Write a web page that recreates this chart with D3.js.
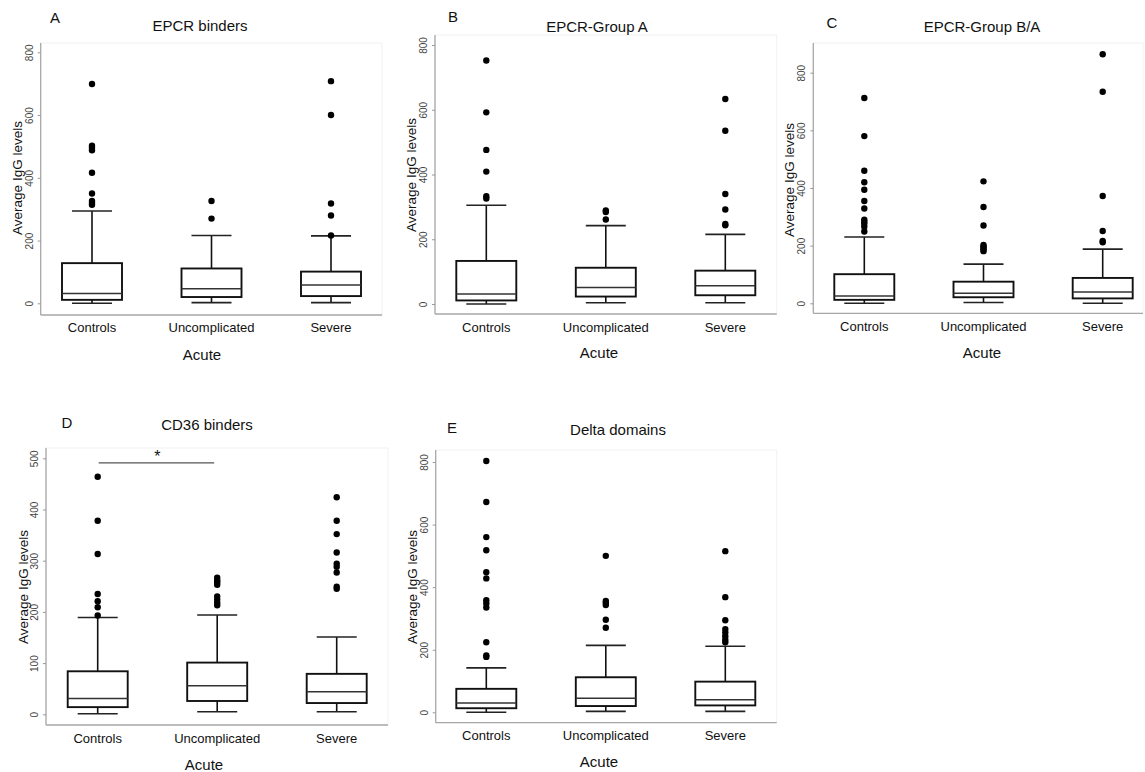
<!DOCTYPE html>
<html>
<head>
<meta charset="utf-8">
<script src="https://cdn.jsdelivr.net/npm/d3@7"></script>
<style>
  body { margin: 0; background: #fff; }
  svg { display: block; font-family: "Liberation Sans", Arial, sans-serif; }
</style>
</head>
<body>
<svg id="chart" width="1145" height="772"></svg>
<script>
const categories = ["Controls", "Uncomplicated", "Severe"]
const panelLetters = ["A", "B", "C", "D", "E"]
const panelTitles = ["EPCR binders", "EPCR-Group A", "EPCR-Group B/A", "CD36 binders", "Delta domains"]
const ticks800 = [0, 200, 400, 600, 800]
const ticks500 = [0, 100, 200, 300, 400, 500]

// box stats: [lower whisker, Q1, median, Q3, upper whisker]
const epcrBinderBoxes = [[0, 11, 31, 128, 294], [2, 20, 46, 111, 216], [2, 23, 58, 101, 215]]
const epcrBinderOutliers = [[314, 320, 326, 350, 416, 488, 496, 502, 699], [270, 326], [216, 280, 318, 600, 708]]

const groupABoxes = [[0, 11, 31, 133, 305], [4, 23, 51, 112, 242], [4, 27, 56, 103, 215]]
const groupAOutliers = [[326, 333, 409, 476, 592, 752], [261, 284, 289], [243, 247, 292, 340, 535, 633]]

const groupBABoxes = [[0, 12, 25, 101, 230], [3, 21, 35, 75, 136], [0, 17, 39, 88, 188]]
const groupBAOutliers = [[249, 266, 276, 283, 290, 329, 355, 394, 420, 460, 580, 712],
  [181, 187, 192, 197, 202, 270, 334, 423], [212, 216, 251, 372, 734, 864]]

const cd36Boxes = [[1, 14, 31, 84, 189], [5, 26, 56, 101, 194], [5, 22, 44, 79, 151]]
const cd36Outliers = [[193, 209, 221, 235, 313, 378, 464],
  [213, 218, 224, 230, 253, 258, 262, 267], [245, 249, 277, 288, 294, 316, 352, 378, 424]]

const deltaBoxes = [[0, 13, 30, 75, 142], [3, 20, 45, 112, 214], [3, 22, 40, 98, 211]]
const deltaOutliers = [[177, 182, 224, 335, 348, 358, 428, 448, 518, 560, 672, 803],
  [270, 296, 343, 350, 356, 500], [224, 232, 243, 255, 266, 294, 368, 515]]

const boxData = [epcrBinderBoxes, groupABoxes, groupBABoxes, cd36Boxes, deltaBoxes]
const outlierData = [epcrBinderOutliers, groupAOutliers, groupBAOutliers, cd36Outliers, deltaOutliers]
const tickData = [ticks800, ticks800, ticks800, ticks500, ticks800]

// pixel layout of each panel
const layouts = [
  { x0: 40.7, x1: 382, top: 43, base: 315, y0: 303.3, yT: 52.3, c0: 92, c2: 331,
    letter: [55, 18], title: [200, 26], ylab: [17, 178], cat: 327, acute: [202, 355] },
  { x0: 435, x1: 776.7, top: 35, base: 314, y0: 304, yT: 45, c0: 486.3, c2: 725.3,
    letter: [453, 17], title: [597, 27], ylab: [411, 175], cat: 327, acute: [599, 353] },
  { x0: 813.3, x1: 1143, top: 43, base: 313.3, y0: 303.3, yT: 72.7, c0: 864.3, c2: 1102.7,
    letter: [832, 23], title: [982, 27], ylab: [789, 180], cat: 326, acute: [982, 353] },
  { x0: 46, x1: 388, top: 448, base: 725, y0: 714.3, yT: 458.3, c0: 97.7, c2: 336.7,
    letter: [67, 423], title: [207, 425], ylab: [23, 587], cat: 738, acute: [204, 765] },
  { x0: 435.7, x1: 776.7, top: 450, base: 722.7, y0: 712.3, yT: 462, c0: 486.3, c2: 725.3,
    letter: [452, 428], title: [618, 430], ylab: [412, 587], cat: 735, acute: [599, 762] }
]

const svg = d3.select("#chart")
const boxW = 60, capW = 40

layouts.forEach((L, p) => {
    const ticks = tickData[p]
    const y = d3.scaleLinear().domain([0, d3.max(ticks)]).range([L.y0, L.yT])
    const x = d3.scalePoint().domain(categories).range([L.c0, L.c2])
    const g = svg.append("g")

    // faint plot frame
    g.append("rect")
        .attr("x", L.x0).attr("y", L.top)
        .attr("width", L.x1 - L.x0).attr("height", L.base - L.top)
        .attr("fill", "none").attr("stroke", "#f2f2f2")

    // axes lines
    g.append("line").attr("x1", L.x0).attr("x2", L.x0).attr("y1", L.top).attr("y2", L.base)
        .attr("stroke", "#a8a8a8").attr("stroke-width", 1.3)
    g.append("line").attr("x1", L.x0).attr("x2", L.x1).attr("y1", L.base).attr("y2", L.base)
        .attr("stroke", "#a8a8a8").attr("stroke-width", 1.3)

    // y axis ticks + rotated labels
    const yAxis = g.append("g")
        .attr("transform", `translate(${L.x0},0)`)
        .call(d3.axisLeft(y).tickValues(ticks).tickSize(3).tickSizeOuter(0))
    yAxis.select(".domain").remove()
    yAxis.selectAll(".tick line").attr("stroke", "#999")
    yAxis.selectAll(".tick text")
        .attr("transform", "rotate(-90)")
        .attr("x", 0).attr("y", -11.7).attr("dy", "0.35em")
        .attr("text-anchor", "middle")
        .attr("fill", "#444").attr("font-size", 10)

    // boxes
    const boxes = boxData[p]
    const grp = g.selectAll(".grp")
        .data(categories)
        .join("g")
        .attr("class", "grp")
        .attr("transform", d => `translate(${x(d)},0)`)

    grp.append("line")
        .attr("y1", (d, i) => y(boxes[i][0])).attr("y2", (d, i) => y(boxes[i][1]))
        .attr("stroke", "#111").attr("stroke-width", 1.6)
    grp.append("line")
        .attr("y1", (d, i) => y(boxes[i][3])).attr("y2", (d, i) => y(boxes[i][4]))
        .attr("stroke", "#111").attr("stroke-width", 1.6)
    grp.append("line")
        .attr("x1", -capW / 2).attr("x2", capW / 2)
        .attr("y1", (d, i) => y(boxes[i][0])).attr("y2", (d, i) => y(boxes[i][0]))
        .attr("stroke", "#222").attr("stroke-width", 1.6)
    grp.append("line")
        .attr("x1", -capW / 2).attr("x2", capW / 2)
        .attr("y1", (d, i) => y(boxes[i][4])).attr("y2", (d, i) => y(boxes[i][4]))
        .attr("stroke", "#222").attr("stroke-width", 1.6)
    grp.append("rect")
        .attr("x", -boxW / 2).attr("width", boxW)
        .attr("y", (d, i) => y(boxes[i][3]))
        .attr("height", (d, i) => y(boxes[i][1]) - y(boxes[i][3]))
        .attr("fill", "#fff").attr("stroke", "#111").attr("stroke-width", 1.9)
    grp.append("line")
        .attr("x1", -boxW / 2).attr("x2", boxW / 2)
        .attr("y1", (d, i) => y(boxes[i][2])).attr("y2", (d, i) => y(boxes[i][2]))
        .attr("stroke", "#333").attr("stroke-width", 1.5)

    // outliers
    grp.selectAll("circle")
        .data((d, i) => outlierData[p][i])
        .join("circle")
        .attr("cx", 0).attr("cy", v => y(v)).attr("r", 3.2)
        .attr("fill", "#000")

    // x category labels
    g.selectAll(".cat")
        .data(categories)
        .join("text")
        .attr("class", "cat")
        .attr("x", d => x(d)).attr("y", L.cat)
        .attr("dy", "0.35em").attr("text-anchor", "middle")
        .attr("font-size", 13).attr("fill", "#111")
        .text(d => d)

    g.append("text")
        .attr("x", L.acute[0]).attr("y", L.acute[1])
        .attr("dy", "0.35em").attr("text-anchor", "middle")
        .attr("font-size", 15).attr("fill", "#111")
        .text("Acute")

    g.append("text")
        .attr("transform", `translate(${L.ylab[0]},${L.ylab[1]}) rotate(-90)`)
        .attr("dy", "0.35em").attr("text-anchor", "middle")
        .attr("font-size", 13.5).attr("fill", "#111")
        .text("Average IgG levels")

    g.append("text")
        .attr("x", L.title[0]).attr("y", L.title[1])
        .attr("dy", "0.35em").attr("text-anchor", "middle")
        .attr("font-size", 15).attr("fill", "#111")
        .text(panelTitles[p])

    g.append("text")
        .attr("x", L.letter[0]).attr("y", L.letter[1])
        .attr("dy", "0.35em").attr("text-anchor", "middle")
        .attr("font-size", 15).attr("fill", "#111")
        .text(panelLetters[p])

    // significance bracket in CD36 panel
    if (p === 3) {
        const sigY = y(491)
        g.append("line")
            .attr("x1", x("Controls") + 1).attr("x2", x("Uncomplicated") - 3)
            .attr("y1", sigY).attr("y2", sigY)
            .attr("stroke", "#555").attr("stroke-width", 1.2)
        g.append("text")
            .attr("x", d3.mean([x("Controls"), x("Uncomplicated")]))
            .attr("y", sigY - 1)
            .attr("text-anchor", "middle")
            .attr("font-size", 16).attr("fill", "#111")
            .text("*")
    }
})
</script>
</body>
</html>
